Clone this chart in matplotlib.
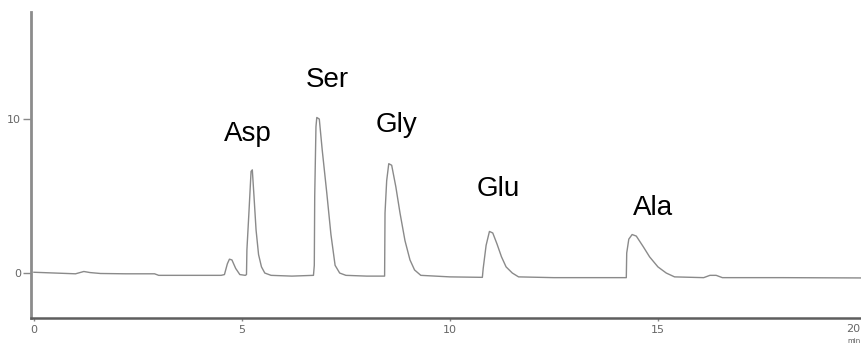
import matplotlib.pyplot as plt

# trace (time in min, signal)
trace_x = [0, 0.5, 1.0, 1.2, 1.35, 1.6, 2.2, 2.9, 3.0, 4.0, 4.5,
           4.58, 4.65, 4.7, 4.76, 4.85, 4.95, 5.08,
           5.11, 5.12, 5.17, 5.22, 5.25, 5.29, 5.34, 5.4, 5.47, 5.55, 5.7,
           6.2, 6.72,
           6.74, 6.75, 6.78, 6.8, 6.86, 6.93, 7.04, 7.14, 7.24, 7.35, 7.5,
           8.0, 8.43,
           8.44, 8.48, 8.53, 8.6, 8.7, 8.8, 8.92, 9.04, 9.15, 9.3,
           10.0, 10.78,
           10.8, 10.87, 10.95, 11.03, 11.13, 11.24, 11.35, 11.5, 11.65,
           12.5, 13.5, 14.24,
           14.25, 14.3, 14.38, 14.48, 14.65, 14.8, 15.0, 15.2, 15.4,
           16.1, 16.25, 16.4, 16.55, 18.0, 20.0]
trace_y = [0.05, 0.0, -0.05, 0.1, 0.03, -0.03, -0.05, -0.05, -0.15, -0.15, -0.15,
           -0.1, 0.6, 0.9, 0.85, 0.3, -0.1, -0.15,
           -0.1, 1.5, 4.0, 6.6, 6.7, 5.0, 2.8, 1.2, 0.4, 0.0, -0.15,
           -0.2, -0.15,
           0.5, 5.0, 9.5, 10.1, 10.0, 8.0, 5.2, 2.5, 0.5, 0.0, -0.15,
           -0.2, -0.2,
           3.9, 6.0, 7.1, 7.0, 5.6, 3.9, 2.1, 0.85, 0.2, -0.15,
           -0.25, -0.28,
           0.3, 1.8, 2.7, 2.6, 1.9, 1.05, 0.4, 0.0, -0.25,
           -0.3, -0.3, -0.3,
           1.3, 2.2, 2.5, 2.4, 1.7, 1.05, 0.4, 0.0, -0.25,
           -0.3, -0.15, -0.15, -0.3, -0.3, -0.32]

peak_names = ["Asp", "Ser", "Gly", "Glu", "Ala"]
label_x = [5.13, 7.06, 8.71, 11.17, 14.88]
label_y = [8.57, 12.08, 9.16, 5.0, 3.77]

x_ticks = [0, 5, 10, 15]
y_ticks = [0, 10]

fig = plt.figure(figsize=(8.62, 3.47), dpi=100)
ax = fig.add_axes([31 / 862, 1 - 318 / 347, 837 / 862, (318 - 12) / 347])

ax.plot(trace_x, trace_y, color="#8a8a8a", lw=1.0)

for name, lx, ly in zip(peak_names, label_x, label_y):
    ax.text(lx, ly, name, ha="center", va="baseline", fontsize=20,
            family="Liberation Sans", color="black")

ax.set_xlim(-0.07, 20.05)
ax.set_ylim(-2.92, 16.95)
ax.set_xticks(x_ticks)
ax.set_yticks(y_ticks)
ax.tick_params(axis="y", length=6, width=1, color="#888888", labelsize=8,
               labelcolor="#666666", pad=1)
ax.tick_params(axis="x", length=2, width=1, color="#888888", labelsize=8,
               labelcolor="#666666", pad=3)

for s in ["top", "right"]:
    ax.spines[s].set_visible(False)
ax.spines["left"].set_color("#8c8c8c")
ax.spines["left"].set_linewidth(2)
ax.spines["bottom"].set_color("#5e5e5e")
ax.spines["bottom"].set_linewidth(1.8)

# the 20 min label sits at the right edge of the page
fig.text(0.998, 1 - 329 / 347, "20", fontsize=8, color="#666666",
         ha="right", va="center")
fig.text(0.998, 1 - 341 / 347, "min", fontsize=5, color="#555555",
         ha="right", va="center")

fig.savefig("out.png", dpi=100)
